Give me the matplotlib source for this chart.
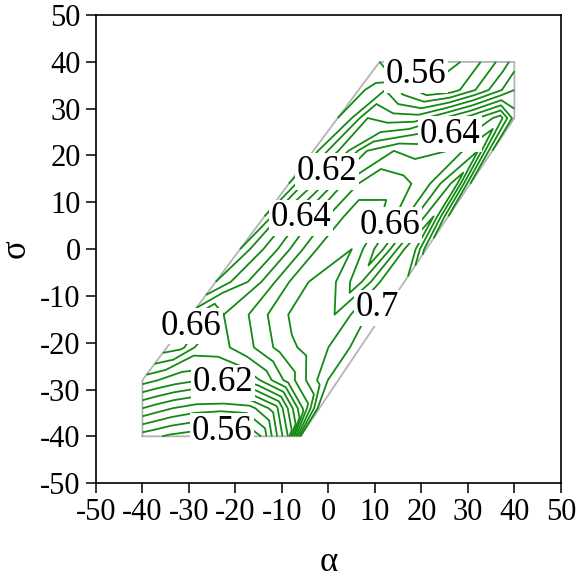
import matplotlib
matplotlib.use("Agg")
import matplotlib.pyplot as plt
import numpy as np

plt.rcParams['font.family'] = ['Liberation Serif', 'DejaVu Serif']
plt.rcParams['axes.unicode_minus'] = False

# outline of the sampled region (alpha, sigma)
edge_alpha = [-40, -6, 40, 40, 11, -40, -40]
edge_sigma = [-40, -40, 28, 40, 40, -28, -40]

# sample rows in sigma and fractional position across the region
sigma_rows = [-40, -34, -28, -21, -14, -7, 0, 7, 14, 21, 28, 34, 40]
frac_cols = [0, 0.08, 0.17, 0.3, 0.45, 0.6, 0.75, 0.92, 1.0]

# sampled values, one row per sigma
values = [
    [0.565, 0.562, 0.558, 0.555, 0.555, 0.556, 0.570, 0.620, 0.700],
    [0.600, 0.595, 0.590, 0.585, 0.583, 0.585, 0.605, 0.665, 0.705],
    [0.635, 0.630, 0.625, 0.620, 0.625, 0.640, 0.665, 0.695, 0.710],
    [0.665, 0.662, 0.645, 0.648, 0.660, 0.675, 0.685, 0.695, 0.710],
    [0.645, 0.660, 0.650, 0.660, 0.675, 0.688, 0.680, 0.700, 0.706],
    [0.620, 0.630, 0.640, 0.658, 0.678, 0.685, 0.665, 0.700, 0.695],
    [0.610, 0.625, 0.635, 0.655, 0.675, 0.680, 0.655, 0.700, 0.665],
    [0.600, 0.620, 0.635, 0.655, 0.672, 0.675, 0.655, 0.690, 0.650],
    [0.590, 0.610, 0.625, 0.650, 0.668, 0.665, 0.655, 0.685, 0.640],
    [0.585, 0.600, 0.615, 0.640, 0.650, 0.645, 0.650, 0.670, 0.630],
    [0.580, 0.590, 0.610, 0.605, 0.605, 0.620, 0.635, 0.655, 0.625],
    [0.575, 0.585, 0.590, 0.575, 0.562, 0.565, 0.580, 0.600, 0.610],
    [0.570, 0.565, 0.555, 0.550, 0.552, 0.560, 0.570, 0.585, 0.595],
]

levels = np.round(np.arange(0.55, 0.715, 0.01), 2)
label_levels = [0.56, 0.62, 0.64, 0.66, 0.7]
label_spots = [(20, 38.9), (25.5, 26), (-1.4, 17.7), (-6.8, 7.3), (13.2, 5.1),
               (11.3, -13.7), (-29.4, -16.7), (-22.7, -29.3), (-22.9, -40.8)]

# build the curvilinear grid
sig = np.array(sigma_rows, dtype=float)
left = np.interp(sig, [-40, -28, 40], [-40, -40, 11])
right = np.interp(sig, [-40, 28, 40], [-6, 40, 40])
F, S = np.meshgrid(frac_cols, sig)
A = left[:, None] + F * (right - left)[:, None]
Z = np.array(values)

fig = plt.figure(figsize=(5.8, 5.8), dpi=100)
ax = fig.add_axes([0.1655, 0.167, 0.8015, 0.807])

green = '#138a13'
ax.plot(edge_alpha, edge_sigma, color='#b4b4b4', lw=1.3, zorder=1)
plain = [lv for lv in levels if not np.isclose(lv, label_levels).any()]
ax.contour(A, S, Z, levels=plain, colors=green, linewidths=1.3, zorder=2)
cs = ax.contour(A, S, Z, levels=label_levels, colors=green, linewidths=1.3, zorder=2)
txts = ax.clabel(cs, inline=False, fontsize=25, colors='k',
                 fmt='%g', manual=label_spots)
for t in txts:
    t.set_rotation(0)
    t.set_bbox(dict(boxstyle='square,pad=0.05', fc='white', ec='none'))
    t.set_zorder(5)

ax.set_xlim(-50, 50)
ax.set_ylim(-50, 50)
ticks = np.arange(-50, 51, 10)
ax.set_xticks(ticks)
ax.set_yticks(ticks)
ax.tick_params(direction='out', length=7, width=1.1, labelsize=22, pad=4,
               top=False, right=False)
for sp in ax.spines.values():
    sp.set_linewidth(1.2)
ax.set_xlabel('α', fontsize=25, va='center', ha='center')
ax.set_ylabel('σ', fontsize=25, rotation=90, va='center', ha='center')
ax.xaxis.set_label_coords(0.5, -0.17)
ax.yaxis.set_label_coords(-0.172, 0.5)

fig.savefig('out.png', dpi=100)
